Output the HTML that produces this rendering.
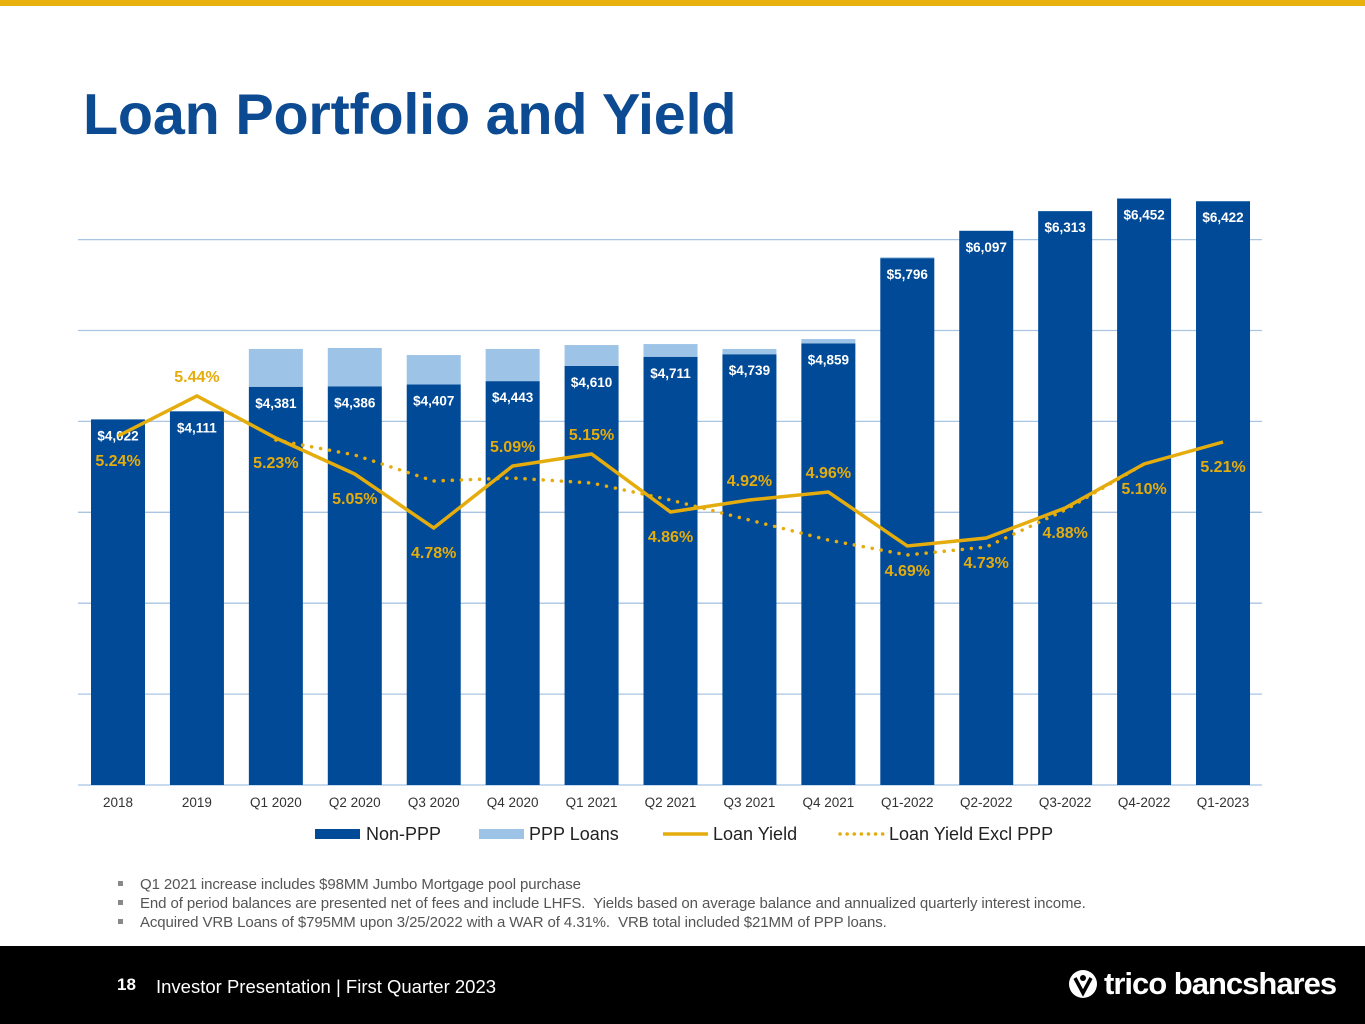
<!DOCTYPE html>
<html><head><meta charset="utf-8">
<style>
body{margin:0;width:1365px;height:1024px;position:relative;background:#fff;font-family:"Liberation Sans",sans-serif;overflow:hidden}
#topbar{position:absolute;left:0;top:0;width:1365px;height:6px;background:#e8b10e}
#title{position:absolute;left:83px;top:82px;font-size:57.5px;font-weight:bold;color:#0c4a91;margin:0;letter-spacing:-0.2px}
#notes{position:absolute;left:118px;top:875px;font-size:15px;color:#555;line-height:19px;letter-spacing:-0.1px}
#notes div{position:relative;padding-left:22px}
#notes div:before{content:"";position:absolute;left:0;top:6px;width:5px;height:5px;background:#888}
#footer{position:absolute;left:0;top:946px;width:1365px;height:78px;background:#000;color:#fff}
</style></head><body>
<div id="topbar"></div>
<h1 id="title">Loan Portfolio and Yield</h1>
<svg id="chart" width="1365" height="860" style="position:absolute;left:0;top:0"></svg>
<div id="notes">
<div>Q1 2021 increase includes $98MM Jumbo Mortgage pool purchase</div>
<div>End of period balances are presented net of fees and include LHFS.&nbsp; Yields based on average balance and annualized quarterly interest income.</div>
<div>Acquired VRB Loans of $795MM upon 3/25/2022 with a WAR of 4.31%.&nbsp; VRB total included $21MM of PPP loans.</div>
</div>
<div id="footer">
<div style="position:absolute;left:117px;top:29px;font-size:17px;font-weight:bold">18</div>
<div style="position:absolute;left:156px;top:30px;font-size:18.5px">Investor Presentation | First Quarter 2023</div>
<div style="position:absolute;left:1068px;top:20px;font-size:31px;font-weight:bold;letter-spacing:-1px;display:flex;align-items:center">
<svg width="30" height="30" viewBox="0 0 30 30" style="margin-right:6px"><circle cx="15" cy="15" r="14" fill="#fff"/><path d="M7 9 L15 24 L23 9" stroke="#000" stroke-width="3.5" fill="none"/><circle cx="15" cy="9" r="3" fill="#000"/></svg>trico bancshares</div>
</div>
<script>
const categories=["2018","2019","Q1 2020","Q2 2020","Q3 2020","Q4 2020","Q1 2021","Q2 2021","Q3 2021","Q4 2021","Q1-2022","Q2-2022","Q3-2022","Q4-2022","Q1-2023"];
const nonPPP=[4022,4111,4381,4386,4407,4443,4610,4711,4739,4859,5796,6097,6313,6452,6422];
const pppLoans=[0,0,416,422,323,354,230,140,58,47,10,0,0,0,0];
const loanYield=[5.24,5.44,5.23,5.05,4.78,5.09,5.15,4.86,4.92,4.96,4.69,4.73,4.88,5.10,5.21];
const yieldExclPPP=[null,null,5.22,5.145,5.015,5.03,5.005,4.92,4.82,4.72,4.645,4.685,4.87,5.10,null];
const yieldLabelBelow=[1,0,1,1,1,0,0,1,0,0,1,1,1,1,1];
const gridTicks=[0,1000,2000,3000,4000,5000,6000];

const svg=document.getElementById('chart');const NS='http://www.w3.org/2000/svg';
const base=785,k=0.0909,x0=118,step=78.93,bw=54;
const yB=v=>base-v*k;
const yY=v=>396+(5.44-v)*200;
const xC=i=>x0+i*step;
function mk(t,a){const e=document.createElementNS(NS,t);for(const p in a)e.setAttribute(p,a[p]);svg.appendChild(e);return e;}
gridTicks.forEach((t,i)=>{const g=mk('line',{x1:78,x2:1262,y1:yB(t),y2:yB(t),stroke:'#a8c5e3','stroke-width':1.3});

});
categories.forEach((c,i)=>{
 const r=mk('rect',{x:xC(i)-bw/2,y:yB(nonPPP[i]),width:bw,height:nonPPP[i]*k,fill:'#004a97'});
 
 
 if(pppLoans[i]>0){const p=mk('rect',{x:xC(i)-bw/2,y:yB(nonPPP[i]+pppLoans[i]),width:bw,height:pppLoans[i]*k,fill:'#9dc3e6'});
 
 }
 const t=mk('text',{x:xC(i),y:yB(nonPPP[i])+21,'text-anchor':'middle',fill:'#fff','font-size':13.5,'font-weight':'bold'});
 t.textContent='$'+nonPPP[i].toLocaleString('en-US');
 
 
 const xl=mk('text',{x:xC(i),y:807,'text-anchor':'middle',fill:'#333','font-size':13.5});
 xl.textContent=c;
 
 
});
let d='';yieldExclPPP.forEach((v,i)=>{if(v!=null)d+=(d?'L':'M')+xC(i)+' '+yY(v);});
const dl=mk('path',{d:d,fill:'none',stroke:'#e5ac0d','stroke-width':3.5,'stroke-dasharray':'0.1 9','stroke-linecap':'round'});


let d2='';loanYield.forEach((v,i)=>{d2+=(i?'L':'M')+xC(i)+' '+yY(v);});
const sl=mk('path',{d:d2,fill:'none',stroke:'#e5ac0d','stroke-width':3.5});


loanYield.forEach((v,i)=>{
 const t=mk('text',{x:xC(i),y:yY(v)+(yieldLabelBelow[i]?30:-14),'text-anchor':'middle',fill:'#e5ac0d','font-size':16,'font-weight':'bold'});
 t.textContent=v.toFixed(2)+'%';
 
 
});
const lg=[['Non-PPP','bar',315,366,'#004a97'],['PPP Loans','bar',479,529,'#9dc3e6'],['Loan Yield','line',663,713,'#e5ac0d'],['Loan Yield Excl PPP','dot',838,889,'#e5ac0d']];
lg.forEach(l=>{
 let s;
 if(l[1]=='bar')s=mk('rect',{x:l[2],y:829,width:45,height:10,fill:l[4]});
 else if(l[1]=='line')s=mk('line',{x1:l[2],x2:l[2]+45,y1:834,y2:834,stroke:l[4],'stroke-width':3.5});
 else s=mk('line',{x1:l[2]+2,x2:l[2]+45,y1:834,y2:834,stroke:l[4],'stroke-width':3.5,'stroke-dasharray':'0.1 7','stroke-linecap':'round'});
 
 
 const t=mk('text',{x:l[3],y:840,fill:'#222','font-size':18});t.textContent=l[0];
 
 
});
</script>
</body></html>
